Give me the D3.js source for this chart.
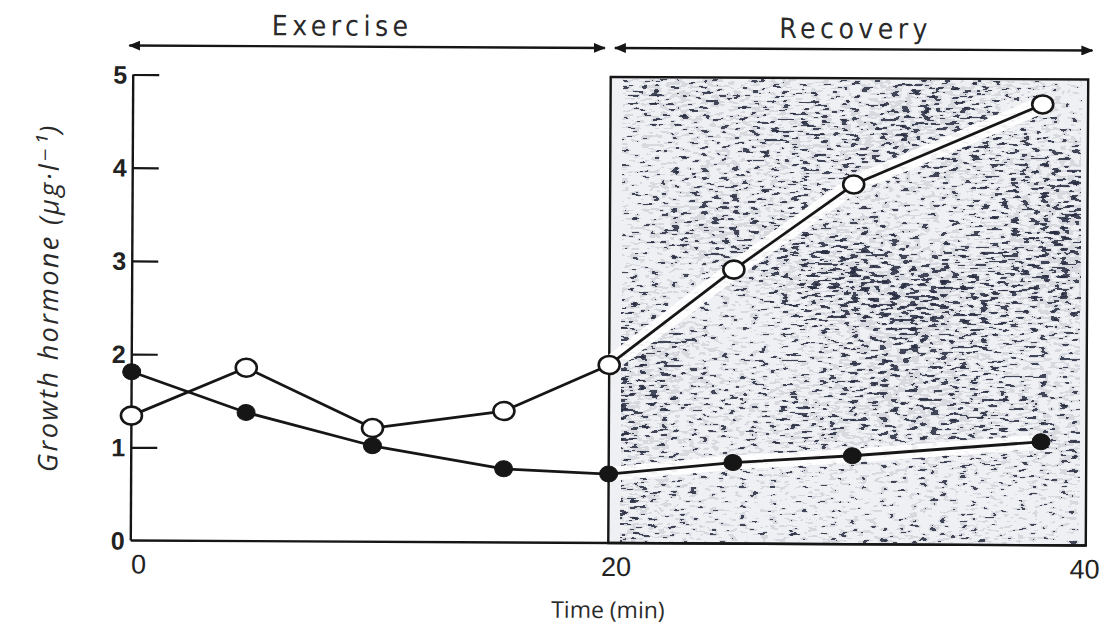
<!DOCTYPE html>
<html>
<head>
<meta charset="utf-8">
<script src="https://cdn.jsdelivr.net/npm/d3@7"></script>
<style>
  html, body { margin: 0; padding: 0; background: #fff; }
  svg { display: block; }
</style>
</head>
<body>
<svg id="chart" width="1104" height="630"></svg>
<script>
// Growth hormone concentration during exercise and recovery
const times        = [0, 4.8, 10.1, 15.6, 20, 25.2, 30.2, 38.1];
const openValues   = [1.34, 1.86, 1.22, 1.41, 1.91, 2.94, 3.86, 4.73];
const filledValues = [1.81, 1.38, 1.03, 0.79, 0.74, 0.87, 0.95, 1.11];
const yTicks = [0, 1, 2, 3, 4, 5];
const xTicks = [0, 20, 40];
const phases = [
  { label: "Exercise", start: 0, end: 20 },
  { label: "Recovery", start: 20, end: 40 }
];

const svg = d3.select("#chart");
const ink = "#161616";

const x = d3.scaleLinear().domain([0, 40]).range([132, 1087]);
const y = d3.scaleLinear().domain([0, 5]).range([543, 77]);

const defs = svg.append("defs");

// speckled screen used for the recovery panel
const f = defs.append("filter").attr("id", "speckle")
  .attr("x", 0).attr("y", 0).attr("width", "100%").attr("height", "100%")
  .attr("filterUnits", "objectBoundingBox")
  .attr("color-interpolation-filters", "sRGB");
const opaque = "1 0 0 0 0  0 1 0 0 0  0 0 1 0 0  0 0 0 0 1";
f.append("feTurbulence").attr("type", "fractalNoise")
  .attr("baseFrequency", "0.10 0.34").attr("numOctaves", 2).attr("seed", 4).attr("result", "fineRaw");
f.append("feColorMatrix").attr("in", "fineRaw").attr("type", "matrix").attr("values", opaque).attr("result", "fine");
f.append("feTurbulence").attr("type", "fractalNoise")
  .attr("baseFrequency", "0.006 0.009").attr("numOctaves", 1).attr("seed", 9).attr("result", "coarseRaw");
f.append("feColorMatrix").attr("in", "coarseRaw").attr("type", "matrix").attr("values", opaque).attr("result", "coarse");
f.append("feComposite").attr("in", "fine").attr("in2", "coarse").attr("operator", "arithmetic")
  .attr("k1", 0).attr("k2", 1).attr("k3", 0.35).attr("k4", -0.18).attr("result", "mix");
f.append("feColorMatrix").attr("in", "mix").attr("type", "matrix")
  .attr("values", "0 0 0 0 0.16  0 0 0 0 0.18  0 0 0 0 0.26  1 0 0 0 0").attr("result", "tone");
const ct = f.append("feComponentTransfer").attr("in", "tone");
ct.append("feFuncA").attr("type", "discrete").attr("tableValues", "0 0 0 0 0.12 0.88 1 1");

// arrowheads for the phase arrows
function arrowMarker(id, orient) {
  defs.append("marker").attr("id", id)
    .attr("viewBox", "0 0 12 10").attr("refX", 11).attr("refY", 5)
    .attr("markerWidth", 12).attr("markerHeight", 10)
    .attr("markerUnits", "userSpaceOnUse").attr("orient", orient)
    .append("path").attr("d", "M0,0 L12,5 L0,10 Z").attr("fill", ink);
}
arrowMarker("arrowEnd", "auto");
arrowMarker("arrowStart", "auto-start-reverse");

const g = svg.append("g").attr("transform", "rotate(0.3, 610, 310)");

// recovery panel: tint, speckle, frame
const panel = g.append("g");
panel.append("rect")
  .attr("x", x(20)).attr("y", y(5))
  .attr("width", x(40) - x(20)).attr("height", y(0) - y(5))
  .attr("fill", "#eef0f4");
panel.append("rect")
  .attr("x", x(20) + 13).attr("y", y(5) + 2)
  .attr("width", x(40) - x(20) - 20).attr("height", y(0) - y(5) - 4)
  .attr("fill", "#fff")
  .attr("filter", "url(#speckle)");
panel.append("rect")
  .attr("x", x(20)).attr("y", y(5))
  .attr("width", x(40) - x(20)).attr("height", y(0) - y(5))
  .attr("fill", "none").attr("stroke", ink).attr("stroke-width", 2.4);

// axes
g.append("line").attr("x1", x(0)).attr("x2", x(0)).attr("y1", y(5)).attr("y2", y(0))
  .attr("stroke", ink).attr("stroke-width", 2.4);
g.append("line").attr("x1", x(0)).attr("x2", x(40)).attr("y1", y(0)).attr("y2", y(0))
  .attr("stroke", ink).attr("stroke-width", 2.4);

const yAxis = d3.axisRight(y).tickValues(yTicks.filter(d => d > 0)).tickSize(26).tickFormat("");
const yA = g.append("g").attr("transform", `translate(${x(0)},0)`).call(yAxis);
yA.select(".domain").remove();
yA.selectAll(".tick line").attr("stroke", ink).attr("stroke-width", 2.2);

g.append("g").selectAll("text").data(yTicks).join("text")
  .attr("x", x(0) - 6).attr("y", d => y(d)).attr("dy", "0.36em")
  .attr("text-anchor", "end")
  .attr("font-family", "Liberation Sans, Arial, sans-serif")
  .attr("font-weight", "bold").attr("font-size", 25).attr("fill", "#222")
  .text(d => d);

g.append("g").selectAll("text").data(xTicks).join("text")
  .attr("x", d => Math.min(x(d) + 8, 1086)).attr("y", y(0) + 33)
  .attr("text-anchor", "middle")
  .attr("font-family", "Liberation Sans, Arial, sans-serif")
  .attr("font-size", 27).attr("fill", "#222")
  .text(d => d);

// axis titles
g.append("text")
  .attr("x", x(20)).attr("y", 618)
  .attr("text-anchor", "middle")
  .attr("font-family", "Open Sans, DejaVu Sans, sans-serif")
  .attr("font-size", 23).attr("fill", "#2a2a2a")
  .text("Time (min)");

g.append("text")
  .attr("transform", `translate(58, ${y(2.6)}) rotate(-90)`)
  .attr("text-anchor", "middle")
  .attr("font-family", "Open Sans, DejaVu Sans, sans-serif")
  .attr("font-style", "italic")
  .attr("font-size", 27).attr("letter-spacing", 2.4).attr("fill", "#2a2a2a")
  .text("Growth hormone (µg·l⁻¹)");

// phase arrows and labels
const arrowY = 48;
g.append("g").selectAll("line").data(phases).join("line")
  .attr("x1", (d, i) => x(d.start) + (i === 0 ? -4 : 4))
  .attr("x2", (d, i) => x(d.end) + (i === 0 ? -6 : 4))
  .attr("y1", arrowY).attr("y2", arrowY)
  .attr("stroke", ink).attr("stroke-width", 2.4)
  .attr("marker-start", "url(#arrowStart)")
  .attr("marker-end", "url(#arrowEnd)");

g.append("g").selectAll("text").data(phases).join("text")
  .attr("x", (d, i) => (x(d.start) + x(d.end)) / 2 + (i === 0 ? -30 : 6))
  .attr("y", 37)
  .attr("text-anchor", "middle")
  .attr("font-family", "DejaVu Sans Condensed, Liberation Sans Narrow, sans-serif")
  .attr("font-size", 28).attr("fill", "#2a2a2a")
  .attr("letter-spacing", 4.5)
  .text(d => d.label);

// series: white corridor under each line, then the line itself
const openPts = times.map((t, i) => [t, openValues[i]]);
const filledPts = times.map((t, i) => [t, filledValues[i]]);
const line = d3.line().x(d => x(d[0])).y(d => y(d[1]));

[[openPts, 17], [filledPts, 14]].forEach(([pts, w]) => {
  g.append("path").datum(pts).attr("d", line)
    .attr("fill", "none").attr("stroke", "#fff").attr("stroke-opacity", 0.92)
    .attr("stroke-width", w).attr("stroke-linejoin", "round");
});
[openPts, filledPts].forEach(pts => {
  g.append("path").datum(pts).attr("d", line)
    .attr("fill", "none").attr("stroke", ink).attr("stroke-width", 2.8)
    .attr("stroke-linejoin", "round");
});

g.append("g").selectAll("ellipse").data(filledPts).join("ellipse")
  .attr("cx", d => x(d[0])).attr("cy", d => y(d[1]))
  .attr("rx", 9).attr("ry", 8)
  .attr("fill", ink).attr("stroke", ink).attr("stroke-width", 1);

g.append("g").selectAll("ellipse").data(openPts).join("ellipse")
  .attr("cx", d => x(d[0])).attr("cy", d => y(d[1]))
  .attr("rx", 10.5).attr("ry", 9)
  .attr("fill", "#fff").attr("stroke", ink).attr("stroke-width", 2.6);
</script>
</body>
</html>
